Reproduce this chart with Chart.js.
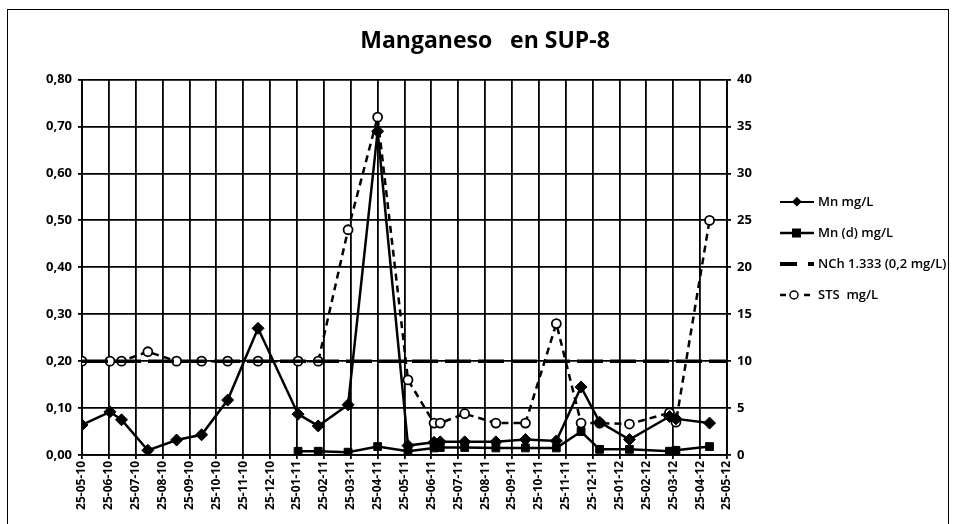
<!DOCTYPE html>
<html>
<head>
<meta charset="utf-8">
<script src="https://cdn.jsdelivr.net/npm/chart.js@4.4.0/dist/chart.umd.min.js"></script>
<style>
  html, body { margin: 0; padding: 0; background: #fff; }
  #wrap { position: relative; width: 953px; height: 524px; overflow: hidden; }
  #frame { position: absolute; left: 7px; top: 9px; width: 942px; height: 540px; border: 1.5px solid #000; box-sizing: border-box; }
  #legend { position: absolute; left: 779px; top: 186px; font: 600 13px "Open Sans", sans-serif; color: #000; white-space: nowrap; }
  #legend div { height: 31px; line-height: 31px; display: flex; align-items: center; }
  #legend svg { margin-right: 2px; }
</style>
</head>
<body>
<div id="wrap">
  <canvas id="mnChart" width="953" height="524"></canvas>
  <div id="frame"></div>
  <div id="legend"></div>
</div>
<script>
// month labels on the x axis (one per month, 25-05-10 .. 25-05-12)
var tickLabels = ['25-05-10', '25-06-10', '25-07-10', '25-08-10', '25-09-10', '25-10-10',
  '25-11-10', '25-12-10', '25-01-11', '25-02-11', '25-03-11', '25-04-11', '25-05-11',
  '25-06-11', '25-07-11', '25-08-11', '25-09-11', '25-10-11', '25-11-11', '25-12-11',
  '25-01-12', '25-02-12', '25-03-12', '25-04-12', '25-05-12'];

// sampling dates, in months since 25-05-10
var sampleMonth = [0, 1.04, 1.47, 2.45, 3.52, 4.45, 5.42, 6.55, 8.04, 8.79, 9.9, 11.0, 12.13,
  13.1, 13.33, 14.24, 15.4, 16.5, 17.65, 18.57, 19.26, 20.37, 21.86, 22.1, 23.35];

// Mn total, mg/L (left axis)
var mnValues = [0.064, 0.092, 0.075, 0.01, 0.032, 0.043, 0.117, 0.27, 0.087, 0.062, 0.107, 0.69, 0.02,
  0.027, 0.028, 0.028, 0.028, 0.033, 0.03, 0.145, 0.07, 0.033, 0.082, 0.077, 0.068];

// Mn dissolved, mg/L (left axis), not measured before 2011
var mnDissolved = [null, null, null, null, null, null, null, null, 0.008, 0.008, 0.006, 0.018, 0.008,
  0.015, 0.016, 0.016, 0.015, 0.015, 0.015, 0.05, 0.012, 0.012, 0.008, 0.01, 0.018];

// STS mg/L (right axis)
var stsValues = [10, 10, 10, 11, 10, 10, 10, 10, 10, 10, 24, 36, 8,
  3.4, 3.4, 4.4, 3.4, 3.4, 14, 3.4, 3.4, 3.3, 4.5, 3.5, 25];

// NCh 1.333 limit
var nchLimit = 0.2;

function points(values) {
  return sampleMonth.map(function (m, i) { return { x: m, y: values[i] }; });
}

var tickFont = { family: 'Open Sans', size: 12, weight: 'bold' };

var ctx = document.getElementById('mnChart').getContext('2d');
var mnChart = new Chart(ctx, {
  type: 'line',
  data: {
    datasets: [{
      label: 'Mn mg/L',
      data: points(mnValues),
      yAxisID: 'y',
      borderColor: '#000',
      backgroundColor: '#000',
      borderWidth: 2.5,
      pointStyle: 'rectRot',
      pointRadius: 6,
      pointBorderWidth: 1
    }, {
      label: 'Mn (d) mg/L',
      data: points(mnDissolved),
      yAxisID: 'y',
      borderColor: '#000',
      backgroundColor: '#000',
      borderWidth: 2.5,
      pointStyle: 'rect',
      pointRadius: 5.5,
      pointBorderWidth: 1,
      spanGaps: false
    }, {
      label: 'NCh 1.333 (0,2 mg/L)',
      data: [{ x: 0, y: nchLimit }, { x: tickLabels.length - 1, y: nchLimit }],
      yAxisID: 'y',
      borderColor: '#000',
      borderWidth: 3.5,
      borderDash: [26, 7],
      pointRadius: 0
    }, {
      label: 'STS  mg/L',
      data: points(stsValues),
      yAxisID: 'y1',
      borderColor: '#000',
      backgroundColor: '#fff',
      borderWidth: 2.5,
      borderDash: [7, 5],
      pointStyle: 'circle',
      pointRadius: 4.5,
      pointBorderWidth: 1.8
    }]
  },
  options: {
    responsive: false,
    animation: false,
    layout: { padding: { left: 17, right: 0, top: 0, bottom: 0 } },
    plugins: {
      legend: { display: false },
      tooltip: { enabled: false },
      title: {
        display: true,
        text: 'Manganeso   en SUP-8',
        color: '#000',
        font: { family: 'Open Sans', size: 23, weight: 'bold' },
        padding: { top: 28, bottom: 24 }
      }
    },
    scales: {
      x: {
        type: 'linear',
        min: 0,
        max: tickLabels.length - 1,
        afterFit: function (scale) { scale.height = 69; },
        ticks: {
          stepSize: 1,
          autoSkip: false,
          maxRotation: 90,
          minRotation: 90,
          padding: 2,
          color: '#000',
          font: tickFont,
          callback: function (v) { return tickLabels[v]; }
        },
        grid: { color: '#000', lineWidth: 1.8, tickLength: 4 },
        border: { color: '#000', width: 1.8 }
      },
      y: {
        position: 'left',
        min: 0,
        max: 0.8,
        afterFit: function (scale) { scale.width = 65; },
        ticks: {
          stepSize: 0.1,
          padding: 6,
          color: '#000',
          font: { family: 'Open Sans', size: 13, weight: 'bold' },
          callback: function (v) { return v.toFixed(2).replace('.', ','); }
        },
        grid: { color: '#000', lineWidth: 1.8, tickLength: 4 },
        border: { color: '#000', width: 1.8 }
      },
      y1: {
        position: 'right',
        min: 0,
        max: 40,
        afterFit: function (scale) { scale.width = 226; },
        ticks: {
          stepSize: 5,
          padding: 6,
          color: '#000',
          font: { family: 'Open Sans', size: 13, weight: 'bold' }
        },
        grid: { drawOnChartArea: false, color: '#000', lineWidth: 1.8, tickLength: 4 },
        border: { color: '#000', width: 1.8 }
      }
    }
  }
});

// legend drawn as html, with a small svg sample of each series
var legendIcons = [
  '<line x1="1" y1="6" x2="35" y2="6" stroke="#000" stroke-width="2"/><rect x="14" y="2" width="7" height="7" transform="rotate(45 17.5 6)" fill="#000"/>',
  '<line x1="1" y1="6" x2="35" y2="6" stroke="#000" stroke-width="2.5"/><rect x="13" y="1.5" width="9" height="9" fill="#000"/>',
  '<line x1="1" y1="6" x2="35" y2="6" stroke="#000" stroke-width="4" stroke-dasharray="17 11"/>',
  '<line x1="1" y1="6" x2="35" y2="6" stroke="#000" stroke-width="2.5" stroke-dasharray="6 6"/><circle cx="15" cy="6" r="4" fill="#fff" stroke="#000" stroke-width="1.5"/>'
];
var legendHtml = '';
mnChart.data.datasets.forEach(function (ds, i) {
  legendHtml += '<div><svg width="37" height="12">' + legendIcons[i] + '</svg>' + ds.label.replace(/ /g, '&nbsp;') + '</div>';
});
document.getElementById('legend').innerHTML = legendHtml;
</script>
</body>
</html>
